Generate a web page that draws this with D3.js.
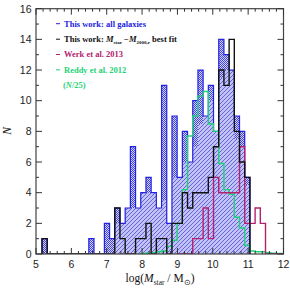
<!DOCTYPE html>
<html lang="en">
  <head>
    <meta charset="utf-8" />
    <title>Stellar mass histogram</title>
    <script src="https://cdnjs.cloudflare.com/ajax/libs/d3/7.8.5/d3.min.js"></script>
    <style>
      body {
        margin: 0;
        background: #ffffff;
      }
      .tick-label {
        font-family: "Liberation Sans", Arial, sans-serif;
        font-size: 10.5px;
        fill: #222;
      }
      .legend {
        font-family: "Liberation Serif", "Times New Roman", serif;
        font-size: 8.5px;
        font-weight: bold;
      }
      .axis-title {
        font-family: "Liberation Serif", "Times New Roman", serif;
        font-size: 11.5px;
        fill: #111;
      }
    </style>
  </head>
  <body>
    <div id="chart"></div>
    <script>
      // bins: same grid for every histogram
      const binStart = 5.17;
      const binWidth = 0.147;

      // This work: all galaxies (bins 0..39)
      const allGalaxies = [1, 0, 0, 0, 0, 0, 0, 0, 0, 1, 0, 0, 2, 1, 3, 2, 3, 7, 3, 4,
        5, 4, 3, 11, 2, 9, 5, 8, 6, 10, 12, 9, 11, 8, 14, 13, 12, 9, 8, 5];
      // lower part of the same bars, drawn with the diagonal hatch (bins 0..39)
      const hatchedPart = [0, 0, 0, 0, 0, 0, 0, 0, 0, 0, 0, 0, 0, 0, 2, 2, 3, 3, 3, 4,
        4, 4, 3, 3.5, 2, 5, 5, 6, 6, 7, 8.5, 9, 10, 8, 11.5, 12, 12, 7.5, 7, 4.5];
      // This work: Mstar - M2000,r best fit (bins 0..39)
      const bestFit = [1, 0, 0, 0, 0, 0, 0, 0, 0, 0, 0, 0, 0, 0, 3, 1, 0, 0, 1, 1,
        2, 0, 1, 1, 0, 2, 2, 4, 3, 4, 4, 4, 5, 7, 12, 11, 14, 8, 6, 5];
      // Werk et al. 2013 (bins 26..46)
      const werkStart = 26;
      const werk = [0, 0, 0, 1, 1, 3, 1, 5, 4, 4, 4, 4, 7, 2, 2, 3, 2, 0, 0, 0, 0];
      // Reddy et al. 2012, N/25 (bins 19..46)
      const reddyStart = 19;
      const reddy = [0.03, 0.05, 0.08, 0.15, 0.2, 0.5, 0.9, 2.0, 4.2, 7.7, 9.0, 10.3,
        10.6, 8.5, 8.0, 5.9, 4.2, 3.9, 2.4, 1.7, 0.55, 0.2, 0.15, 0.15, 0.08, 0.05, 0.03, 0.03];

      const xTicks = [5, 6, 7, 8, 9, 10, 11, 12];
      const yTicks = [0, 2, 4, 6, 8, 10, 12, 14, 16];

      const width = 290, height = 289;
      const x = d3.scaleLinear().domain([5, 12]).range([36, 283.5]);
      const y = d3.scaleLinear().domain([0, 16]).range([254, 8.7]);

      const blue = "#2222e0";
      const black = "#111111";
      const green = "#1fd277";
      const magenta = "#b3226e";

      const svg = d3.select("#chart").append("svg")
        .attr("width", width).attr("height", height);

      const defs = svg.append("defs");
      const checker = defs.append("pattern").attr("id", "checker")
        .attr("patternUnits", "userSpaceOnUse").attr("width", 2).attr("height", 2);
      checker.append("rect").attr("width", 2).attr("height", 2).attr("fill", "#d2d2f8");
      checker.append("rect").attr("width", 1).attr("height", 1).attr("fill", "#4444de");
      checker.append("rect").attr("x", 1).attr("y", 1).attr("width", 1).attr("height", 1).attr("fill", "#4444de");

      const diag = defs.append("pattern").attr("id", "diag")
        .attr("patternUnits", "userSpaceOnUse").attr("width", 4).attr("height", 4);
      diag.append("rect").attr("width", 4).attr("height", 4).attr("fill", "#c2c2f5");
      diag.append("path").attr("d", "M-1,1 L1,-1 M0,4 L4,0 M3,5 L5,3")
        .attr("stroke", "#6464e0").attr("stroke-width", 1);

      defs.append("clipPath").attr("id", "plot")
        .append("rect").attr("x", x(5)).attr("y", y(16))
        .attr("width", x(12) - x(5)).attr("height", y(0) - y(16));

      const edge = k => binStart + k * binWidth;
      // step outline of a histogram, closed down to zero at both ends
      function stepPoints(vals, start) {
        const pts = [[edge(start), 0]];
        vals.forEach((v, i) => {
          pts.push([edge(start + i), v], [edge(start + i + 1), v]);
        });
        pts.push([edge(start + vals.length), 0]);
        return pts;
      }
      const line = d3.line().x(d => x(d[0])).y(d => y(d[1]));

      const g = svg.append("g").attr("clip-path", "url(#plot)");

      // blue filled histogram
      g.append("path").attr("d", line(stepPoints(allGalaxies, 0)) + "Z")
        .attr("fill", "url(#checker)").attr("stroke", "none")
        .attr("shape-rendering", "crispEdges");
      g.append("path").attr("d", line(stepPoints(hatchedPart, 0)) + "Z")
        .attr("fill", "url(#diag)").attr("stroke", "none");
      g.append("path").attr("d", line(stepPoints(allGalaxies, 0)))
        .attr("fill", "none").attr("stroke", blue).attr("stroke-width", 1.2);

      g.append("path").attr("d", line(stepPoints(reddy, reddyStart)))
        .attr("fill", "none").attr("stroke", green).attr("stroke-width", 1.4);
      g.append("path").attr("d", line(stepPoints(werk, werkStart)))
        .attr("fill", "none").attr("stroke", magenta).attr("stroke-width", 1.4);
      g.append("path").attr("d", line(stepPoints(bestFit, 0)))
        .attr("fill", "none").attr("stroke", black).attr("stroke-width", 1.4);

      // frame and ticks
      const axes = svg.append("g").attr("stroke", "#333").attr("stroke-width", 1);
      axes.append("rect").attr("x", x(5)).attr("y", y(16))
        .attr("width", x(12) - x(5)).attr("height", y(0) - y(16))
        .attr("fill", "none").attr("stroke", "#444").attr("stroke-width", 1.2);

      const xMinor = d3.range(5, 12.001, 0.2);
      xMinor.forEach(v => {
        const major = Math.abs(v - Math.round(v)) < 1e-6;
        const len = major ? 6 : 3;
        axes.append("line").attr("x1", x(v)).attr("x2", x(v))
          .attr("y1", y(0)).attr("y2", y(0) - len);
        axes.append("line").attr("x1", x(v)).attr("x2", x(v))
          .attr("y1", y(16)).attr("y2", y(16) + len);
      });
      d3.range(0, 16.001, 1).forEach(v => {
        const len = v % 2 === 0 ? 6 : 3;
        axes.append("line").attr("x1", x(5)).attr("x2", x(5) + len)
          .attr("y1", y(v)).attr("y2", y(v));
        axes.append("line").attr("x1", x(12)).attr("x2", x(12) - len)
          .attr("y1", y(v)).attr("y2", y(v));
      });

      svg.selectAll(".xl").data(xTicks).enter().append("text")
        .attr("class", "tick-label").attr("x", d => x(d)).attr("y", 267.5)
        .attr("text-anchor", "middle").text(d => d);
      svg.selectAll(".yl").data(yTicks).enter().append("text")
        .attr("class", "tick-label").attr("x", 31.5).attr("y", d => y(d) + 3.8)
        .attr("text-anchor", "end").text(d => d);

      // axis titles
      svg.append("text").attr("class", "axis-title")
        .attr("transform", "translate(11,131) rotate(-90)")
        .attr("text-anchor", "middle").attr("font-style", "italic").text("N");

      const xt = svg.append("text").attr("class", "axis-title")
        .attr("x", 160).attr("y", 282).attr("text-anchor", "middle");
      xt.append("tspan").text("log(");
      xt.append("tspan").attr("font-style", "italic").text("M");
      xt.append("tspan").attr("font-size", "7.5px").attr("dy", 2.5).text("star");
      xt.append("tspan").attr("dy", -2.5).text(" / M");
      xt.append("tspan").attr("font-size", "7.5px").attr("dy", 2.5).text("\u2299");
      xt.append("tspan").attr("dy", -2.5).text(")");

      // legend
      const legendRows = [
        { color: blue, y: 26.5 },
        { color: black, y: 42 },
        { color: magenta, y: 57.3 },
        { color: green, y: 72.7 }
      ];
      legendRows.forEach(r => {
        svg.append("line").attr("x1", 56).attr("x2", 60)
          .attr("y1", r.y - 2.8).attr("y2", r.y - 2.8)
          .attr("stroke", r.color).attr("stroke-width", 1);
      });
      const lx = 64;
      svg.append("text").attr("class", "legend").attr("x", lx).attr("y", legendRows[0].y)
        .attr("fill", blue).text("This work: all galaxies");
      const t2 = svg.append("text").attr("class", "legend").attr("x", lx).attr("y", legendRows[1].y)
        .attr("fill", black);
      t2.append("tspan").text("This work: ");
      t2.append("tspan").attr("font-style", "italic").text("M");
      t2.append("tspan").attr("font-size", "5px").attr("dy", 1.5).text("star");
      t2.append("tspan").attr("dy", -1.5).text(" \u2212");
      t2.append("tspan").attr("font-style", "italic").text("M");
      t2.append("tspan").attr("font-size", "5px").attr("dy", 1.5).text("2000,r");
      t2.append("tspan").attr("dy", -1.5).text(" best fit");
      svg.append("text").attr("class", "legend").attr("x", lx).attr("y", legendRows[2].y)
        .attr("fill", magenta).text("Werk et al. 2013");
      svg.append("text").attr("class", "legend").attr("x", lx).attr("y", legendRows[3].y)
        .attr("fill", green).text("Reddy et al. 2012");
      const t5 = svg.append("text").attr("class", "legend").attr("x", 63).attr("y", 88)
        .attr("fill", green);
      t5.append("tspan").text("(");
      t5.append("tspan").attr("font-style", "italic").text("N");
      t5.append("tspan").text("/25)");
    </script>
  </body>
</html>
